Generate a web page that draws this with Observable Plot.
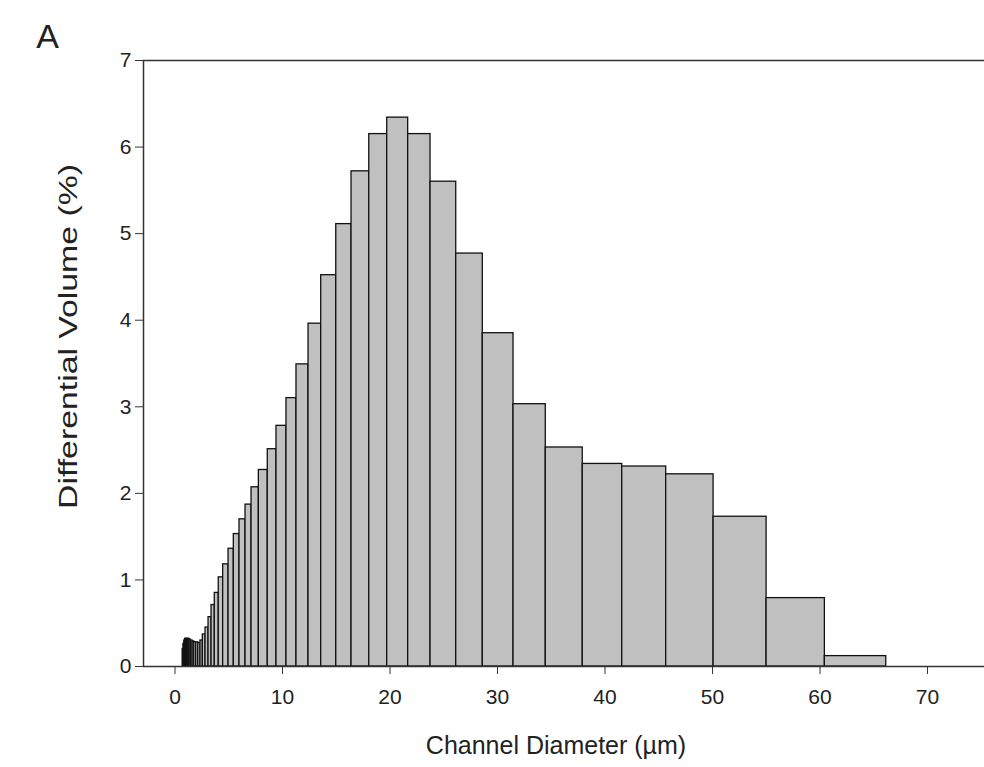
<!DOCTYPE html>
<html><head><meta charset="utf-8">
<script src="https://cdn.jsdelivr.net/npm/d3@7"></script>
<script src="https://cdn.jsdelivr.net/npm/@observablehq/plot@0.6"></script>
<style>body{margin:0;background:#fff;} #chart{width:984px;height:767px;}</style>
</head><body><div id="chart"></div>
<script>
// Channel bin edges (µm)
const binEdges = [0.71, 0.78, 0.86, 0.94, 1.03, 1.13, 1.24, 1.36, 1.49, 1.64,
  1.79, 1.97, 2.16, 2.37, 2.59, 2.84, 3.12, 3.40, 3.70, 4.07,
  4.48, 4.98, 5.47, 6.00, 6.56, 7.12, 7.80, 8.63, 9.44, 10.37,
  11.30, 12.42, 13.60, 15.00, 16.42, 18.07, 19.74, 21.69, 23.77, 26.16,
  28.63, 31.49, 34.49, 37.93, 41.60, 45.69, 50.10, 55.03, 60.45, 66.16];
// Differential volume (%) per channel
const diffVolume = [0.20, 0.26, 0.30, 0.32, 0.32, 0.32, 0.32, 0.31, 0.30, 0.29,
  0.28, 0.28, 0.27, 0.30, 0.37, 0.45, 0.57, 0.71, 0.85, 1.03,
  1.18, 1.36, 1.53, 1.70, 1.87, 2.07, 2.27, 2.51, 2.78, 3.10,
  3.49, 3.96, 4.52, 5.11, 5.72, 6.15, 6.34, 6.15, 5.60, 4.77,
  3.85, 3.03, 2.53, 2.34, 2.31, 2.22, 1.73, 0.79, 0.12];
const xTicks = [0, 10, 20, 30, 40, 50, 60, 70];
const yTicks = [0, 1, 2, 3, 4, 5, 6, 7];
const panelLabel = "A";
const xLabel = "Channel Diameter (µm)";
const yLabel = "Differential Volume (%)";
const xDomain = [-2.93, 75.3];
const yDomain = [0, 7];

const bins = diffVolume.map((v, i) => ({x1: binEdges[i], x2: binEdges[i + 1], y: v}));
const font = "'Liberation Sans', Arial, sans-serif";

const plot = Plot.plot({
  width: 984, height: 767,
  marginLeft: 143, marginRight: 0, marginTop: 60, marginBottom: 101,
  style: {fontFamily: font, color: "#222", background: "#fff"},
  x: {domain: xDomain},
  y: {domain: yDomain},
  marks: [
    Plot.rectY(bins, {x1: "x1", x2: "x2", y: "y", fill: "#c0c0c0", stroke: "#111", strokeWidth: 1.3}),
    Plot.ruleY([yDomain[0]], {stroke: "#333", strokeWidth: 1.5}),
    Plot.ruleY([yDomain[1]], {stroke: "#333", strokeWidth: 1.5}),
    Plot.ruleX([xDomain[0]], {stroke: "#333", strokeWidth: 1.5}),
    Plot.axisX({ticks: xTicks, tickSize: 8, tickPadding: 15, fontSize: 21, label: null, tickFormat: d => String(d), stroke: "#333"}),
    Plot.axisY({ticks: yTicks, tickSize: 8, tickPadding: 4, fontSize: 21, label: null, tickFormat: d => String(d), stroke: "#333"}),
    Plot.text([xLabel], {text: d => d, frameAnchor: "bottom", dy: 79, dx: -8, fontSize: 25, textAnchor: "middle", lineAnchor: "middle", fill: "#222"}),
    Plot.text([yLabel], {text: d => d, frameAnchor: "left", dx: -75, dy: -27, rotate: -90, fontSize: 26, textAnchor: "middle", lineAnchor: "middle", fill: "#222"}),
    Plot.text([panelLabel], {text: d => d, frameAnchor: "top-left", dx: -96, dy: -23, fontSize: 34, textAnchor: "middle", lineAnchor: "middle", fill: "#222"})
  ]
});
// the y title in the reference is drawn stretched along its length
d3.select(plot).selectAll("text")
  .filter(function() { return this.textContent === yLabel; })
  .attr("transform", function() { return (this.getAttribute("transform") || "") + " scale(1.3,1)"; });
document.getElementById("chart").appendChild(plot);
</script>
</body></html>
